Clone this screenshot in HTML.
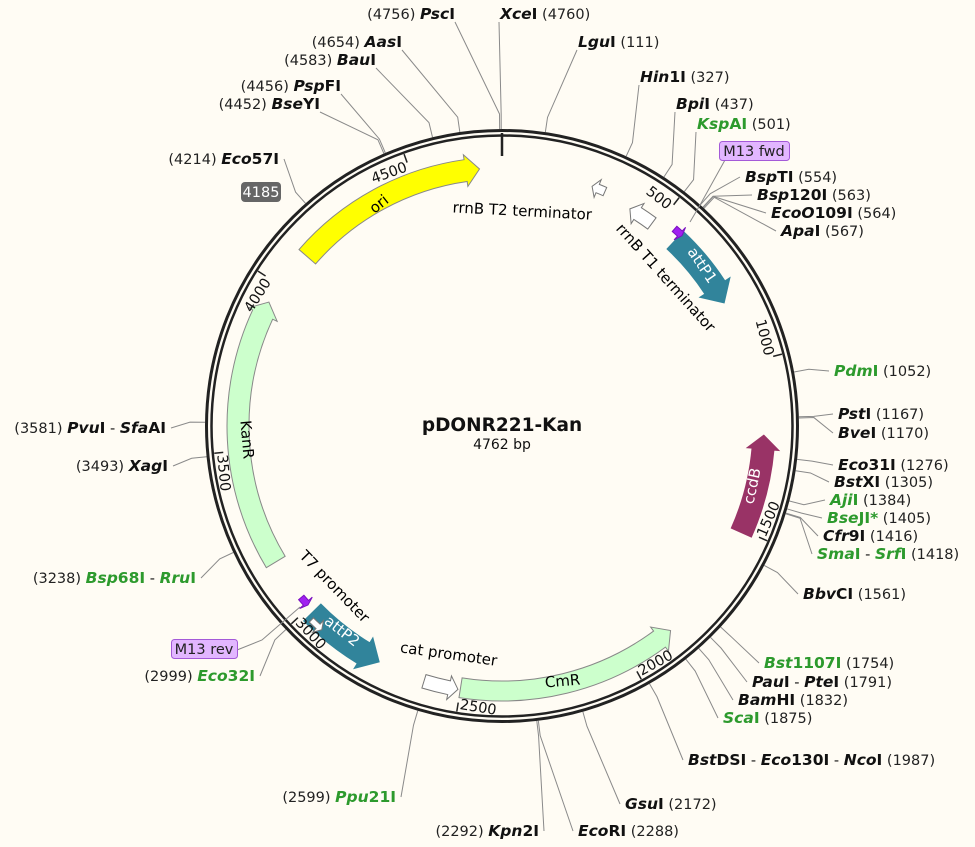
<!DOCTYPE html>
<html><head><meta charset="utf-8"><style>
html,body{margin:0;padding:0;background:#fffcf4;}
svg{display:block;font-family:"DejaVu Sans","Liberation Sans",sans-serif;}
</style></head><body>
<svg id="s" width="975" height="847" viewBox="0 0 975 847" xmlns="http://www.w3.org/2000/svg">
<rect width="975" height="847" fill="#fffcf4"/>
<g id="leaders" stroke="#8a8a8a" stroke-width="1" fill="none"></g>
<g id="feat"></g>
<circle cx="502" cy="426" r="295.5" fill="none" stroke="#222" stroke-width="3"/>
<circle cx="502" cy="426" r="290.5" fill="none" stroke="#222" stroke-width="2.5"/>
<line x1="502" y1="133" x2="502" y2="156" stroke="#222" stroke-width="2.5"/>
<g id="ticks" font-size="14.5" fill="#111"></g>
<g id="labels" font-size="14.5"></g>

<polyline points="725,160 700,205 690,222" stroke="#8a8a8a" fill="none"/>
<rect x="719.5" y="141.5" width="70" height="19" rx="3" fill="#e2b6ff" stroke="#a45ad8"/>
<text x="754" y="156" font-size="14.5" text-anchor="middle" fill="#222">M13 fwd</text>
<polyline points="237,650 262,640 300,607" stroke="#8a8a8a" fill="none"/>
<rect x="171.5" y="639.5" width="66" height="19" rx="3" fill="#e2b6ff" stroke="#a45ad8"/>
<text x="204" y="654" font-size="14.5" text-anchor="middle" fill="#222">M13 rev</text>
<rect x="241" y="182" width="40" height="20" rx="4" fill="#666"/>
<text x="261" y="197" font-size="14.5" text-anchor="middle" fill="#fff">4185</text>

<text font-size="15" transform="translate(382,208) rotate(-38)" text-anchor="middle">ori</text>
<text font-size="15" transform="translate(522,216) rotate(3)" text-anchor="middle">rrnB T2 terminator</text>
<text font-size="15" transform="translate(662,281) rotate(48)" text-anchor="middle">rrnB T1 terminator</text>
<text font-size="15" fill="#fff" transform="translate(698,268) rotate(56)" text-anchor="middle">attP1</text>
<text font-size="15" transform="translate(242,440) rotate(85)" text-anchor="middle">KanR</text>
<text font-size="15" transform="translate(563,686) rotate(-5)" text-anchor="middle">CmR</text>
<text font-size="15" fill="#fff" transform="translate(757,487) rotate(-78)" text-anchor="middle">ccdB</text>
<text font-size="15" fill="#fff" transform="translate(339,635) rotate(38)" text-anchor="middle">attP2</text>
<text font-size="15" transform="translate(331,590) rotate(46)" text-anchor="middle">T7 promoter</text>
<text font-size="15" transform="translate(448,659) rotate(8)" text-anchor="middle">cat promoter</text>

<text x="502" y="431" font-size="18.5" font-weight="bold" text-anchor="middle" fill="#111">pDONR221-Kan</text>
<text x="502" y="449" font-size="14" text-anchor="middle" fill="#111">4762 bp</text>
</svg>
<script>
(function(){
var NS="http://www.w3.org/2000/svg",CX=502,CY=426,L=4762;
function el(t,a,p){var e=document.createElementNS(NS,t);for(var k in a)e.setAttribute(k,a[k]);if(p)p.appendChild(e);return e;}
function pd(deg,r){var a=deg*Math.PI/180;return [CX+r*Math.sin(a),CY-r*Math.cos(a)];}
function pp(p,r){return pd(p/L*360,r);}
var feat=document.getElementById('feat');
function arrow(a1,a2,r,w,fill,stroke,head,ex){
  head=head||14;if(ex===undefined)ex=5;var s=a2>a1?1:-1;var hd=head/r*180/Math.PI;
  var ah=a2-s*hd;var ro=r+w/2,ri=r-w/2;
  if(Math.abs(a2-a1)<hd*1.1){ah=a1;}
  var sw=s>0?1:0,sw2=s>0?0:1;
  var p1=pd(a1,ro),p2=pd(ah,ro),p3=pd(ah,ro+ex),p4=pd(a2,r),p5=pd(ah,ri-ex),p6=pd(ah,ri),p7=pd(a1,ri);
  var d="M"+p1+" A"+ro+","+ro+" 0 0 "+sw+" "+p2+" L"+p3+" L"+p4+" L"+p5+" L"+p6+" A"+ri+","+ri+" 0 0 "+sw2+" "+p7+" Z";
  el('path',{d:d,fill:fill,stroke:stroke,'stroke-width':1,'stroke-linejoin':'miter'},feat);
}
arrow(311,355,258,22,'#ffff00','#888');
arrow(239,298,264,22,'#ccffcc','#888');
arrow(189,140.5,265,20,'#ccffcc','#888');
arrow(114,92,262,22,'#993366','#993366');
arrow(43,61,254,24,'#31849b','#31849b',18,6);
arrow(225.5,207.5,266,24,'#31849b','#31849b',18,6);
arrow(197,189.5,267,14,'#fff','#777',9);
arrow(36.5,30.5,252,14,'#fff','#777',9);
arrow(23.7,20.6,256,9,'#fff','#777',6);
arrow(224.5,221.5,272,6,'#fff','#777',5);
arrow(41.2,43.4,262,7,'#a020f0','#7a10c0',3);
arrow(229.5,227.3,264,7,'#a020f0','#7a10c0',3);
var tk=document.getElementById('ticks');
for(var p=500;p<L;p+=500){
  var a=p/L*360;var q1=pp(p,289),q2=pp(p,280);
  el('line',{x1:q1[0],y1:q1[1],x2:q2[0],y2:q2[1],stroke:'#222','stroke-width':1.5},tk);
  var c=pp(p,279);var rot,anc;
  if(a<=90||a>=270){rot=a;anc='end';}else{rot=a-180;anc='start';}
  var t=el('text',{transform:'translate('+c[0]+','+c[1]+') rotate('+rot+')','text-anchor':anc,dy:'0.5em',dx:(anc=='end'?'-2':'2')},tk);
  t.textContent=p;
}
var labels=[
 [455,14,'L','PscI',4756],[500,14,'R','XceI',4760],[578,42,'R','LguI',111],[640,77,'R','Hin1I',327],
 [676,104,'R','BpiI',437],[697,124,'R','KspAI',501,1],[745,177,'R','BspTI',554],[757,195,'R','Bsp120I',563],
 [771,213,'R','EcoO109I',564],[781,231,'R','ApaI',567],[834,371,'R','PdmI',1052,1],[838,414,'R','PstI',1167],
 [838,433,'R','BveI',1170],[838,465,'R','Eco31I',1276],[834,482,'R','BstXI',1305],[830,500,'R','AjiI',1384,1],
 [827,518,'R','BseJI*',1405,1],[823,536,'R','Cfr9I',1416],[817,554,'R','SmaI - SrfI',1418,1],[803,594,'R','BbvCI',1561],
 [764,663,'R','Bst1107I',1754,1],[752,682,'R','PauI - PteI',1791],[738,700,'R','BamHI',1832],[723,718,'R','ScaI',1875,1],
 [688,760,'R','BstDSI - Eco130I - NcoI',1987],[625,804,'R','GsuI',2172],[578,831,'R','EcoRI',2288],
 [539,831,'L','Kpn2I',2292],[396,797,'L','Ppu21I',2599,1],[255,676,'L','Eco32I',2999,1],
 [196,578,'L','Bsp68I - RruI',3238,1],[168,466,'L','XagI',3493],[166,428,'L','PvuI - SfaAI',3581],
 [279,159,'L','Eco57I',4214],[320,104,'L','BseYI',4452],[341,86,'L','PspFI',4456],[376,60,'L','BauI',4583],[402,42,'L','AasI',4654]
];
var lg=document.getElementById('labels'),ld=document.getElementById('leaders');
labels.forEach(function(d){
  var x=d[0],y=d[1],side=d[2],nm=d[3],num=d[4],g=d[5];
  var col=g?'#2d9a2d':'#111';
  var t=el('text',{x:x,y:y+5,'text-anchor':side=='L'?'end':'start'},lg);
  function tsp(txt,attrs){var s=el('tspan',attrs,t);s.textContent=txt;}
  if(side=='L')tsp('('+num+')  ',{fill:'#222'});
  var parts=nm.split(' - ');
  parts.forEach(function(pn,i){
    if(i>0)tsp(' - ',{fill:'#111','font-weight':'normal'});
    var k=pn.indexOf('O109')>0?4:3;
    tsp(pn.slice(0,k),{fill:col,'font-weight':'bold','font-style':'italic','font-size':'15.5'});
    tsp(pn.slice(k),{fill:col,'font-weight':'bold','font-size':'15.5'});
  });
  if(side=='R')tsp('  ('+num+')',{fill:'#222'});
  var ax,ay;
  if(y<130){ax=side=='L'?x:x-1;ay=y+8;}else{ax=side=='L'?x+5:x-5;ay=y;}
  var m=pp(num,312),e=pp(num,297);
  el('polyline',{points:ax+','+ay+' '+m+' '+e},ld);
});
})();
</script>
</body></html>
